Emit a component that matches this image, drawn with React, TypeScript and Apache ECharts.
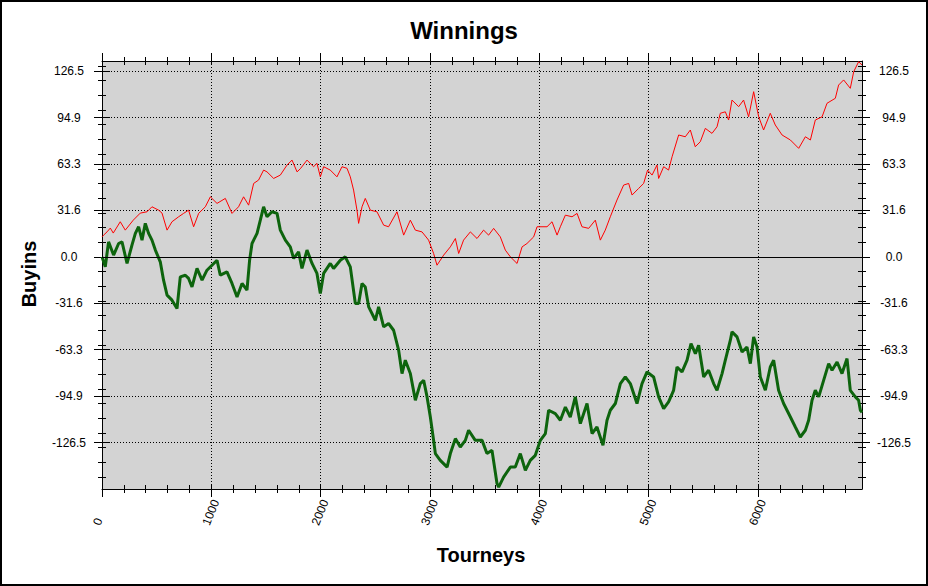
import React, { useEffect, useRef } from 'react';
import * as echarts from 'echarts';

// ---- data (tourney number, buyins) ----
const redSeries: [number, number][] = [
  [0, 13.6], [15, 14.8], [46, 17.0], [76, 19.6], [103, 16.2], [167, 23.9], [213, 18.2], [286, 25.0],
  [350, 29.8], [412, 30.7], [457, 34.1], [518, 31.8], [549, 29.8], [595, 18.2], [640, 23.9], [701, 27.3],
  [746, 29.6], [792, 31.8], [838, 20.5], [884, 29.6], [945, 34.1], [991, 40.9], [1052, 36.4], [1128, 39.8],
  [1189, 29.6], [1249, 34.1], [1295, 40.9], [1341, 35.2], [1387, 50.0], [1432, 52.3], [1478, 59.1], [1509, 57.9],
  [1570, 53.4], [1631, 55.7], [1692, 62.5], [1738, 65.9], [1784, 57.9], [1814, 60.0], [1875, 65.9], [1935, 61.4],
  [1966, 63.7], [1997, 54.5], [2027, 61.4], [2088, 59.1], [2149, 54.5], [2195, 61.4], [2241, 60.3], [2271, 54.5],
  [2301, 45.5], [2332, 31.8], [2347, 22.8], [2378, 34.1], [2408, 39.8], [2454, 31.8], [2515, 30.7], [2576, 21.6],
  [2621, 20.5], [2698, 30.7], [2759, 14.8], [2820, 25.0], [2866, 18.2], [2927, 17.0], [2987, 11.4], [3033, 2.3],
  [3064, -5.7], [3125, 1.2], [3186, 6.8], [3232, 12.5], [3262, 2.3], [3307, 11.4], [3369, 17.0], [3430, 12.5],
  [3490, 18.2], [3536, 14.8], [3582, 19.4], [3643, 13.6], [3689, 4.6], [3735, 0.0], [3796, -4.5], [3842, 6.8],
  [3887, 9.1], [3948, 13.6], [3979, 20.5], [4070, 20.5], [4116, 23.9], [4162, 14.8], [4192, 20.5], [4238, 28.4],
  [4299, 27.3], [4345, 29.6], [4390, 20.5], [4451, 19.4], [4512, 25.0], [4558, 11.4], [4603, 18.2], [4649, 27.3],
  [4710, 38.7], [4771, 48.9], [4817, 50.0], [4848, 42.1], [4908, 46.6], [4954, 50.0], [4990, 59.1], [5031, 55.7],
  [5076, 62.5], [5091, 53.4], [5137, 61.4], [5182, 59.1], [5214, 68.2], [5274, 83.0], [5335, 81.8], [5381, 86.4],
  [5426, 75.0], [5472, 78.4], [5518, 87.5], [5579, 84.1], [5625, 88.6], [5655, 97.8], [5701, 98.8], [5731, 93.2],
  [5762, 106.8], [5823, 102.3], [5868, 106.8], [5914, 95.4], [5960, 112.5], [6006, 95.4], [6051, 86.4], [6112, 97.8],
  [6158, 89.8], [6220, 83.0], [6296, 79.6], [6372, 73.9], [6433, 81.8], [6479, 79.6], [6524, 93.2], [6586, 95.4],
  [6631, 104.6], [6707, 108.0], [6737, 117.0], [6783, 120.5], [6844, 114.8], [6875, 126.1], [6920, 132.9], [6951, 130.7],
];

const greenSeries: [number, number][] = [
  [0, 0.0], [30, -6.8], [60, 10.2], [106, 1.2], [152, 9.1], [183, 10.2], [229, -4.5], [274, 8.0],
  [305, 16.0], [335, 20.5], [366, 11.4], [396, 22.8], [426, 16.0], [457, 11.4], [488, 4.6], [533, -3.4],
  [563, -15.9], [595, -26.1], [640, -29.5], [686, -35.2], [716, -13.6], [762, -12.5], [792, -14.7], [823, -20.5],
  [869, -7.9], [915, -15.9], [960, -9.1], [1006, -5.7], [1052, -2.3], [1082, -12.5], [1143, -10.2], [1189, -18.1],
  [1235, -27.3], [1281, -18.1], [1326, -22.7], [1350, -2.3], [1372, 9.1], [1418, 16.0], [1448, 25.0], [1478, 34.1],
  [1509, 27.3], [1555, 30.7], [1601, 29.6], [1631, 18.2], [1677, 11.4], [1722, 6.8], [1753, -1.1], [1798, 3.4],
  [1829, -7.9], [1875, 4.6], [1921, -4.5], [1966, -11.3], [1997, -24.9], [2027, -11.3], [2088, -4.5], [2118, -7.9],
  [2180, -2.3], [2225, 0.0], [2271, -6.8], [2317, -31.8], [2347, -31.8], [2378, -18.1], [2408, -20.5], [2439, -34.1],
  [2500, -43.2], [2530, -34.1], [2576, -47.7], [2621, -45.4], [2667, -50.0], [2713, -63.6], [2744, -79.5], [2774, -70.4],
  [2820, -79.5], [2866, -97.7], [2911, -86.3], [2942, -84.1], [2973, -95.4], [3003, -109.1], [3033, -125.0], [3049, -134.0],
  [3094, -138.6], [3156, -143.2], [3186, -134.0], [3232, -123.8], [3277, -129.5], [3323, -125.0], [3353, -118.1], [3414, -125.0],
  [3476, -125.0], [3521, -134.0], [3567, -131.8], [3613, -154.5], [3628, -156.8], [3673, -150.0], [3735, -143.2], [3780, -143.2],
  [3826, -134.0], [3872, -145.4], [3917, -138.6], [3963, -135.2], [4009, -125.0], [4055, -120.4], [4085, -104.5], [4146, -106.8],
  [4192, -111.3], [4238, -102.3], [4283, -109.1], [4329, -95.4], [4375, -113.6], [4436, -99.9], [4482, -120.4], [4527, -115.9],
  [4582, -128.4], [4619, -111.3], [4649, -104.5], [4695, -99.9], [4741, -86.3], [4786, -81.8], [4832, -86.3], [4893, -99.9],
  [4939, -86.3], [4985, -78.4], [5045, -81.8], [5091, -95.4], [5137, -103.4], [5182, -98.8], [5228, -90.9], [5259, -75.0],
  [5305, -78.4], [5351, -70.4], [5387, -59.0], [5427, -65.9], [5457, -60.2], [5503, -81.8], [5548, -77.2], [5594, -86.3],
  [5625, -90.9], [5671, -79.5], [5701, -70.4], [5747, -56.8], [5762, -51.1], [5808, -54.5], [5854, -64.8], [5899, -61.4],
  [5930, -72.7], [5960, -54.5], [5991, -61.4], [6021, -81.8], [6067, -90.9], [6112, -75.0], [6143, -70.4], [6188, -90.9],
  [6234, -99.9], [6296, -109.1], [6341, -115.9], [6387, -122.7], [6433, -118.1], [6463, -111.3], [6494, -97.7], [6524, -90.9],
  [6555, -95.4], [6600, -84.1], [6646, -72.7], [6677, -77.2], [6723, -71.6], [6768, -79.5], [6814, -69.3], [6844, -90.9],
  [6890, -95.4], [6920, -97.7], [6936, -104.5], [6951, -105.9],
];

// axis ranges and tick steps
const X_MIN = 0;
const X_MAX = 6951;
const X_LABEL_STEP = 1000;
const X_MINOR_STEP = 200;
const X_LAST_MAJOR = 6000;
const X_LAST_MINOR = 6800;
const Y_MIN = -158.125;
const Y_MAX = 133.4;
const Y_LABEL_STEP = 31.625;
const Y_LABEL_LIMIT = 126.5;
const Y_MINOR_STEP = 10;
const Y_MINOR_LOW = -150;
const Y_MINOR_HIGH = 130;

const TITLE = 'Winnings';
const X_NAME = 'Tourneys';
const Y_NAME = 'Buyins';

const FONT = '"Liberation Sans", Arial, Helvetica, sans-serif';
const PLOT = { left: 102, top: 61, width: 760, height: 428 };

const xPx = (t: number) => PLOT.left + ((t - X_MIN) / (X_MAX - X_MIN)) * PLOT.width;
const yPx = (v: number) => PLOT.top + ((Y_MAX - v) / (Y_MAX - Y_MIN)) * PLOT.height;

const gridBase = { containLabel: false, outerBoundsMode: 'none', show: false } as any;

function buildOption() {
  const grids = [
    { ...gridBase, ...PLOT, show: true, backgroundColor: '#D3D3D3', borderWidth: 0 },
    // x major ticks
    { ...gridBase, left: PLOT.left, top: PLOT.top, height: PLOT.height, width: xPx(X_LAST_MAJOR) - PLOT.left },
    // x minor ticks
    { ...gridBase, left: PLOT.left, top: PLOT.top, height: PLOT.height, width: xPx(X_LAST_MINOR) - PLOT.left },
    // y major ticks
    { ...gridBase, left: PLOT.left, width: PLOT.width, top: yPx(Y_LABEL_LIMIT), height: yPx(-Y_LABEL_LIMIT) - yPx(Y_LABEL_LIMIT) },
    // y minor ticks
    { ...gridBase, left: PLOT.left, width: PLOT.width, top: yPx(Y_MINOR_HIGH), height: yPx(Y_MINOR_LOW) - yPx(Y_MINOR_HIGH) },
  ];

  const hidden = (gridIndex: number) => ({ type: 'value', gridIndex, show: false, min: 0, max: 1, axisLine: { onZero: false } });
  const tickAxis = (gridIndex: number, position: string, min: number, max: number, interval: number, length: number, offset: number) => ({
    type: 'value', gridIndex, position, min, max, interval, offset, silent: true,
    axisLine: { show: false, onZero: false },
    axisTick: { show: true, inside: false, length, lineStyle: { color: '#000', width: 1 } },
    axisLabel: { show: false },
    splitLine: { show: false },
    minorTick: { show: false },
  });

  const dotted = { color: '#000', width: 1, type: [1, 2] };
  const lineStyle = { color: '#000', width: 1 };

  const yFmt = (v: number) => (Math.abs(v) > Y_LABEL_LIMIT + 0.01 ? '' : v.toFixed(1));
  const xFmt = (v: number) => (Math.abs(v % X_LABEL_STEP) < 1e-6 ? String(v) : '');

  const xAxis = [
    {
      type: 'value', gridIndex: 0, position: 'bottom', min: X_MIN, max: X_MAX, interval: X_LABEL_STEP,
      axisLine: { show: true, onZero: false, lineStyle },
      axisTick: { show: false },
      axisLabel: {
        show: true, rotate: 68, margin: 38, align: 'left', verticalAlign: 'bottom',
        color: '#000', fontSize: 12, fontFamily: FONT, formatter: xFmt,
      },
      splitLine: { show: true, showMinLine: false, showMaxLine: false, lineStyle: dotted },
    },
    {
      type: 'value', gridIndex: 0, position: 'top', min: X_MIN, max: X_MAX, interval: X_LABEL_STEP,
      axisLine: { show: true, onZero: false, lineStyle },
      axisTick: { show: false }, axisLabel: { show: false }, splitLine: { show: false },
    },
    tickAxis(1, 'bottom', X_MIN, X_LAST_MAJOR, X_LABEL_STEP, 12, -4),
    tickAxis(1, 'top', X_MIN, X_LAST_MAJOR, X_LABEL_STEP, 12, -4),
    tickAxis(2, 'bottom', X_MIN, X_LAST_MINOR, X_MINOR_STEP, 8, -4),
    tickAxis(2, 'top', X_MIN, X_LAST_MINOR, X_MINOR_STEP, 8, -4),
    hidden(3),
    hidden(4),
  ];

  const yAxis = [
    {
      type: 'value', gridIndex: 0, position: 'left', min: Y_MIN, max: Y_MAX, interval: Y_LABEL_STEP,
      axisLine: { show: true, onZero: false, lineStyle },
      axisTick: { show: false },
      axisLabel: { show: true, margin: 33, align: 'center', color: '#000', fontSize: 12, fontFamily: FONT, formatter: yFmt },
      splitLine: { show: true, showMinLine: false, showMaxLine: false, lineStyle: dotted },
    },
    {
      type: 'value', gridIndex: 0, position: 'right', min: Y_MIN, max: Y_MAX, interval: Y_LABEL_STEP,
      axisLine: { show: true, onZero: false, lineStyle },
      axisTick: { show: false },
      axisLabel: { show: true, margin: 32, align: 'center', color: '#000', fontSize: 12, fontFamily: FONT, formatter: yFmt },
      splitLine: { show: false },
    },
    hidden(1),
    hidden(2),
    tickAxis(3, 'left', -Y_LABEL_LIMIT, Y_LABEL_LIMIT, Y_LABEL_STEP, 16, -8),
    tickAxis(3, 'right', -Y_LABEL_LIMIT, Y_LABEL_LIMIT, Y_LABEL_STEP, 16, -8),
    tickAxis(4, 'left', Y_MINOR_LOW, Y_MINOR_HIGH, Y_MINOR_STEP, 8, -4),
    tickAxis(4, 'right', Y_MINOR_LOW, Y_MINOR_HIGH, Y_MINOR_STEP, 8, -4),
  ];

  return {
    animation: false,
    backgroundColor: '#ffffff',
    grid: grids,
    xAxis,
    yAxis,
    series: [
      {
        type: 'line', name: 'green', xAxisIndex: 0, yAxisIndex: 0, data: greenSeries,
        symbol: 'none', showSymbol: false, silent: true, z: 3,
        lineStyle: { color: '#0d640d', width: 3 }, itemStyle: { color: '#0d640d' },
      },
      {
        type: 'line', name: 'red', xAxisIndex: 0, yAxisIndex: 0, data: redSeries,
        symbol: 'none', showSymbol: false, silent: true, z: 4,
        lineStyle: { color: '#ff0000', width: 1 }, itemStyle: { color: '#ff0000' },
        markLine: {
          silent: true, symbol: ['none', 'none'], label: { show: false }, animation: false,
          lineStyle: { color: '#000', width: 1, type: 'solid' },
          data: [{ yAxis: 0 }],
        },
      },
    ],
    graphic: [
      {
        type: 'rect', silent: true, z: 100,
        shape: { x: 1, y: 1, width: 926, height: 584 },
        style: { fill: 'none', stroke: '#000', lineWidth: 2 },
      },
      {
        type: 'text', x: 464, y: 30, silent: true,
        style: {
          text: TITLE, fill: '#000', font: `bold 24px ${FONT}`,
          textAlign: 'center', textVerticalAlign: 'middle', align: 'center', verticalAlign: 'middle',
        },
      },
      {
        type: 'text', x: 29, y: 274, rotation: Math.PI / 2, silent: true,
        style: {
          text: Y_NAME, fill: '#000', font: `bold 20px ${FONT}`,
          textAlign: 'center', textVerticalAlign: 'middle', align: 'center', verticalAlign: 'middle',
        },
      },
      {
        type: 'text', x: 481, y: 555, silent: true,
        style: {
          text: X_NAME, fill: '#000', font: `bold 20px ${FONT}`,
          textAlign: 'center', textVerticalAlign: 'middle', align: 'center', verticalAlign: 'middle',
        },
      },
    ],
  };
}

export default function App() {
  const ref = useRef<HTMLDivElement>(null);
  useEffect(() => {
    if (!ref.current) return;
    const chart = echarts.init(ref.current, null, { renderer: 'svg' });
    chart.setOption(buildOption() as any);
    return () => chart.dispose();
  }, []);
  return (
    <div
      ref={ref}
      style={{ position: 'absolute', left: 0, top: 0, width: 928, height: 586, background: '#fff' }}
    />
  );
}
